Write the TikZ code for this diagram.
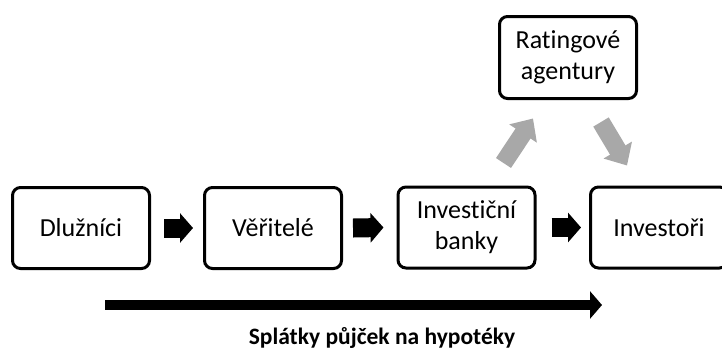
\documentclass[tikz,border=0pt]{standalone}
\usepackage{fontspec}
\setmainfont[Ligatures=NoCommon]{Carlito}
\usetikzlibrary{arrows.meta,calc}
\begin{document}
\begin{tikzpicture}[x=1pt,y=-1pt,
  box/.style={draw=black,line width=3pt,rounded corners=8pt,fill=white,
    minimum width=137pt,minimum height=81pt,align=center,
    font=\fontsize{26}{31}\selectfont,inner sep=0pt},
  blockarrow/.style={line width=19pt,-{Triangle[length=13pt,width=29pt]}},
  grayarrow/.style={draw={rgb,255:red,168;green,168;blue,168},line width=18pt,
    -{Triangle[length=18pt,width=32pt]}},
  payarrow/.style={line width=10pt,-{Triangle[length=12pt,width=27pt]}}]
\useasboundingbox (0,0) rectangle (722,354);
\node[box] (dl) at (81,228) {Dlužníci};
\node[box] (ve) at (273,228) {Věřitelé};
\node[box] (ib) at (466.5,227.5) {Investiční\\banky};
\node[box] (in) at (659,227.5) {Investoři};
\node[box,minimum height=82pt] (ra) at (568,57.5) {Ratingové\\agentury};
\draw[blockarrow] ($(dl.east)+(13,0)$) -- ($(ve.west)+(-10,0)$);
\draw[blockarrow] ($(ve.east)+(10,0)$) -- ($(ib.west)+(-13,0)$);
\draw[blockarrow] ($(ib.east)+(15,0)$) -- ($(in.west)+(-8,0)$);
\coordinate (g1s) at ($(ib.north)+(37,-22.5)$);
\coordinate (g1e) at ($(ra.south)+(-35,18.5)$);
\coordinate (g2s) at ($(ra.south)+(33,22)$);
\coordinate (g2e) at ($(in.north)+(-32,-20)$);
\draw[grayarrow] (g1s) -- (g1e);
\draw[grayarrow] (g2s) -- (g2e);
\coordinate (ps) at (105,305);
\coordinate (pe) at (602,305);
\draw[payarrow] (ps) -- (pe);
\node[font=\fontsize{23.5}{28}\selectfont\bfseries] (lbl) at (382,338) {Splátky půjček na hypotéky};
\end{tikzpicture}
\end{document}
